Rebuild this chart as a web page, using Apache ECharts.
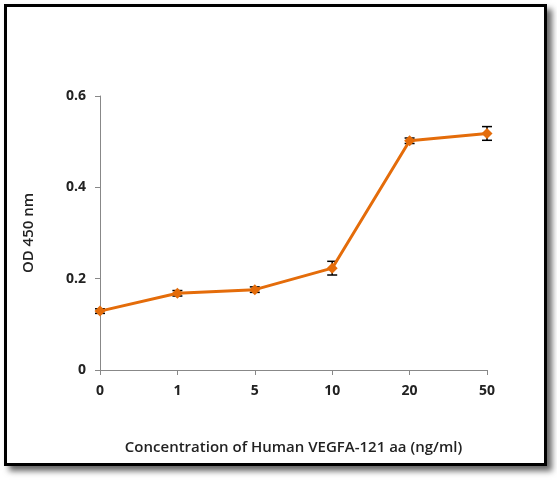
<!DOCTYPE html>
<html><head><meta charset="utf-8">
<script src="https://cdn.jsdelivr.net/npm/echarts@6/dist/echarts.min.js"></script>
<style>
html,body{margin:0;padding:0;background:#fff;}
#frame{position:absolute;left:4px;top:4px;width:537px;height:456px;border:3px solid #000;box-shadow:5px 5px 6px #666;}
#c{position:absolute;left:0;top:0;width:557px;height:482px;}
</style></head><body>
<div id="frame"></div><div id="c"></div>
<script>
const categories=['0','1','5','10','20','50'];
const values=[0.129,0.168,0.176,0.223,0.502,0.518];
const errors=[0.005,0.006,0.006,0.015,0.006,0.015];
const yTicks=[0,0.2,0.4,0.6];
const chart=echarts.init(document.getElementById('c'));
const font={fontFamily:'Open Sans',fontWeight:'bold',fontSize:14,color:'#222'};
const tfont={fontFamily:'Open Sans',fontWeight:600,fontSize:15,color:'#222'};
chart.setOption({
 grid:{left:100,right:70,top:96,bottom:112},
 xAxis:{type:'category',data:categories,boundaryGap:false,
  name:'Concentration of Human VEGFA-121 aa (ng/ml)',nameLocation:'middle',nameGap:70,
  nameTextStyle:tfont,axisLabel:Object.assign({margin:14},font),
  axisLine:{lineStyle:{color:'#888',width:1}},axisTick:{alignWithLabel:true,lineStyle:{color:'#888'}}},
 yAxis:{type:'value',min:0,max:0.6,interval:0.2,name:'OD 450 nm',nameLocation:'middle',nameGap:64,
  nameTextStyle:tfont,axisLabel:Object.assign({margin:14,formatter:v=>yTicks.includes(+v.toFixed(1))?(v===0?'0':v.toFixed(1)):''},font),
  axisLine:{show:true,lineStyle:{color:'#888'}},axisTick:{show:true,lineStyle:{color:'#888'}},splitLine:{show:false}},
 series:[
  {type:'custom',data:values.map((v,i)=>[i,v-errors[i],v+errors[i]]),z:1,
   renderItem:(p,api)=>{const lo=api.coord([api.value(0),api.value(1)]),hi=api.coord([api.value(0),api.value(2)]);const w=5;
    return {type:'group',children:[
     {type:'line',shape:{x1:lo[0],y1:lo[1],x2:hi[0],y2:hi[1]},style:{stroke:'#000',lineWidth:1.5}},
     {type:'line',shape:{x1:lo[0]-w,y1:lo[1],x2:lo[0]+w,y2:lo[1]},style:{stroke:'#000',lineWidth:1.5}},
     {type:'line',shape:{x1:hi[0]-w,y1:hi[1],x2:hi[0]+w,y2:hi[1]},style:{stroke:'#000',lineWidth:1.5}}]};}},
  {type:'line',data:values,z:3,symbol:'diamond',symbolSize:11,lineStyle:{color:'#E46C0A',width:3},itemStyle:{color:'#E46C0A'}}
 ]
});
</script></body></html>
